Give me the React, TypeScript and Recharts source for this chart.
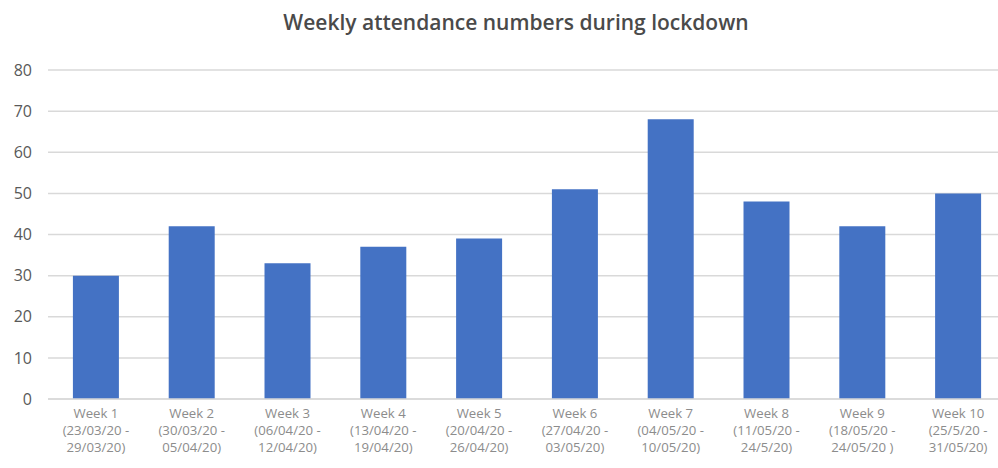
import React from 'react';
import { BarChart, Bar, XAxis, YAxis, CartesianGrid } from 'recharts';

const weeks = ['Week 1', 'Week 2', 'Week 3', 'Week 4', 'Week 5', 'Week 6', 'Week 7', 'Week 8', 'Week 9', 'Week 10'];
const startDates = ['(23/03/20 -', '(30/03/20 -', '(06/04/20 -', '(13/04/20 -', '(20/04/20 -', '(27/04/20 -', '(04/05/20 -', '(11/05/20 -', '(18/05/20 -', '(25/5/20 -'];
const endDates = ['29/03/20)', '05/04/20)', '12/04/20)', '19/04/20)', '26/04/20)', '03/05/20)', '10/05/20)', '24/5/20)', '24/05/20 )', '31/05/20)'];
const attendance = [30, 42, 33, 37, 39, 51, 68, 48, 42, 50];
const yTicks = [0, 10, 20, 30, 40, 50, 60, 70, 80];

const data = weeks.map((week, i) => ({
  week,
  start: startDates[i],
  end: endDates[i],
  value: attendance[i],
}));

const FONT = '"Open Sans", sans-serif';

const WeekTick = (props: any) => {
  const { x, y, payload } = props;
  const row = data[payload.index];
  return (
    <text x={x} y={y} textAnchor="middle" fill="#8c8c8c" fontSize={13.2} fontFamily={FONT}>
      <tspan x={x} dy={17}>{row.week}</tspan>
      <tspan x={x} dy={17}>{row.start}</tspan>
      <tspan x={x} dy={17}>{row.end}</tspan>
    </text>
  );
};

export default function App() {
  return (
    <div style={{ position: 'absolute', left: 0, top: 0, width: 998, height: 468, overflow: 'hidden', background: '#fff' }}>
      <div
        style={{
          position: 'absolute',
          left: 0,
          top: 9,
          width: 1032,
          textAlign: 'center',
          fontFamily: FONT,
          fontSize: 21,
          fontWeight: 600,
          color: '#4a4a4a',
          lineHeight: '26px',
        }}
      >
        Weekly attendance numbers during lockdown
      </div>
      <BarChart
        width={1006}
        height={468}
        data={data}
        margin={{ top: 70, right: 0, bottom: 0, left: 0 }}
        barCategoryGap="26%"
      >
        <CartesianGrid vertical={false} stroke="#d9d9d9" strokeWidth={1.5} />
        <XAxis
          dataKey="week"
          height={69}
          tickLine={false}
          tickSize={0}
          axisLine={{ stroke: '#d9d9d9', strokeWidth: 1.5 }}
          interval={0}
          tick={<WeekTick />}
        />
        <YAxis
          width={48}
          domain={[0, 80]}
          ticks={yTicks}
          tickLine={false}
          tickSize={0}
          tickMargin={16}
          axisLine={false}
          tick={{ fill: '#595959', fontSize: 16, fontFamily: FONT }}
        />
        <Bar dataKey="value" fill="#4472C4" isAnimationActive={false} />
      </BarChart>
    </div>
  );
}
